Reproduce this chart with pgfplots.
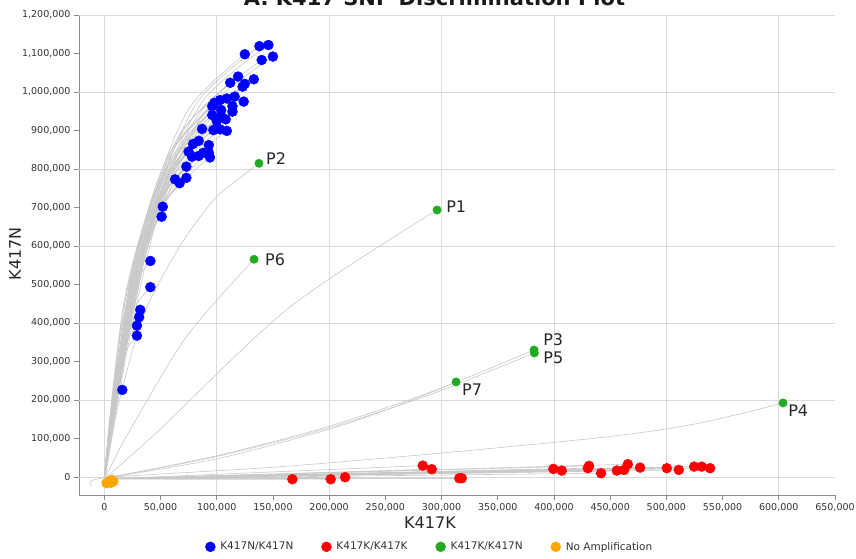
\documentclass[border=0pt]{standalone}
\usepackage{fontspec}
\setmainfont{DejaVu Sans}
\usepackage{pgfplots}
\pgfplotsset{compat=1.18}
\definecolor{gridc}{RGB}{218,218,218}
\definecolor{trajc}{RGB}{200,200,200}
\definecolor{ptgreen}{RGB}{34,170,34}
\definecolor{ptorange}{RGB}{255,165,0}
\definecolor{axisc}{RGB}{140,140,140}
\definecolor{tickc}{RGB}{51,51,51}
\pgfplotsset{traj/.style={forget plot, trajc, line width=0.6pt, smooth, mark=none}}
\newcommand{\traj}[1]{\addplot[traj] coordinates {#1};}
\newcommand{\rline}[2]{\addplot[forget plot, trajc, line width=0.6pt, mark=none] coordinates {(3000,-5000) (#1,#2)};}
\begin{document}
\begin{tikzpicture}
\begin{axis}[
  at={(0pt,0pt)}, anchor=south west,
  scale only axis, width=756pt, height=480pt,
  xmin=-22500, xmax=650000, ymin=-47000, ymax=1200000,
  axis x line*=bottom, axis y line*=left,
  axis line style={axisc, line width=0.8pt, -},
  every outer x axis line/.append style={-},
  every outer y axis line/.append style={-},
  xtick={0,50000,...,650000}, ytick={0,100000,...,1200000},
  tick align=outside, major tick length=5pt,
  tick style={axisc, line width=0.8pt},
  extra x ticks={0,100000,...,600000}, extra x tick labels={},
  extra y ticks={0,200000,...,1200000}, extra y tick labels={},
  extra tick style={grid=major, major tick length=0pt},
  major grid style={gridc, line width=0.8pt},
  scaled ticks=false,
  xticklabel style={/pgf/number format/.cd, fixed, 1000 sep={,}, assume math mode=true},
  yticklabel style={/pgf/number format/.cd, fixed, 1000 sep={,}, assume math mode=true},
  tick label style={font=\fontsize{9.5}{11}\selectfont, text=tickc},
  legend columns=4,
  legend style={at={(axis description cs:0.464,-0.108)}, anchor=center, draw=none, fill=none,
    font=\fontsize{10.5}{12}\selectfont, text=tickc,
    /tikz/every odd column/.append style={column sep=3pt},
    /tikz/every even column/.append style={column sep=26pt}},
  legend image code/.code={\draw[mark repeat=2, mark phase=2, #1] plot coordinates {(0pt,0pt) (6pt,0pt) (12pt,0pt)};},
]
\addlegendimage{only marks, mark=*, blue, mark size=5pt}
\addlegendentry{K417N/K417N}
\addlegendimage{only marks, mark=*, red, mark size=5pt}
\addlegendentry{K417K/K417K}
\addlegendimage{only marks, mark=*, ptgreen, mark size=5pt}
\addlegendentry{K417K/K417N}
\addlegendimage{only marks, mark=*, ptorange, mark size=5pt}
\addlegendentry{No Amplification}

% trajectories of K417N/K417N wells
\traj{(0,-2000) (22100,391700) (46900,727400) (82800,973500) (138000,1119000)}
\traj{(0,-2000) (23400,392700) (49600,729300) (87600,976100) (146000,1122000)}
\traj{(0,-2000) (20000,384300) (42500,713700) (75000,955300) (125000,1098000)}
\traj{(0,-2000) (22400,379100) (47600,704000) (84000,942200) (140000,1083000)}
\traj{(0,-2000) (24000,382200) (51000,709800) (90000,950000) (150000,1092000)}
\traj{(0,-2000) (19000,364000) (40500,676000) (71400,904800) (119000,1040000)}
\traj{(0,-2000) (21300,361600) (45200,671500) (79800,898700) (133000,1033000)}
\traj{(0,-2000) (17900,358400) (38100,665600) (67200,890900) (112000,1024000)}
\traj{(0,-2000) (20000,357400) (42500,663700) (75000,888300) (125000,1021000)}
\traj{(0,-2000) (19700,354900) (41800,659100) (73800,882200) (123000,1014000)}
\traj{(0,-2000) (18600,345800) (39400,642200) (69600,859600) (116000,988000)}
\traj{(0,-2000) (19800,341300) (42200,633800) (74400,848300) (124000,975000)}
\traj{(0,-2000) (17400,344100) (37100,639000) (65400,855200) (109000,983000)}
\traj{(0,-2000) (16500,342700) (35000,636400) (61800,851700) (103000,979000)}
\traj{(0,-2000) (15700,340200) (33300,631800) (58800,845600) (98000,972000)}
\traj{(0,-2000) (15400,337100) (32600,626000) (57600,837800) (96000,963000)}
\traj{(0,-2000) (18200,337100) (38800,626000) (68400,837800) (114000,963000)}
\traj{(0,-2000) (16600,333600) (35400,619500) (62400,829100) (104000,953000)}
\traj{(0,-2000) (18200,332200) (38800,616900) (68400,825600) (114000,949000)}
\traj{(0,-2000) (15400,329000) (32600,611000) (57600,817800) (96000,940000)}
\traj{(0,-2000) (16600,327600) (35400,608400) (62400,814300) (104000,936000)}
\traj{(0,-2000) (17300,325200) (36700,603900) (64800,808200) (108000,929000)}
\traj{(0,-2000) (16000,323800) (34000,601300) (60000,804800) (100000,925000)}
\traj{(0,-2000) (13900,316400) (29600,587600) (52200,786500) (87000,904000)}
\traj{(0,-2000) (15500,315400) (33000,585700) (58200,783900) (97000,901000)}
\traj{(0,-2000) (16500,316100) (35000,587000) (61800,785600) (103000,903000)}
\traj{(0,-2000) (17400,314700) (37100,584400) (65400,782100) (109000,899000)}
\traj{(0,-2000) (13400,305600) (28600,567500) (50400,759500) (84000,873000)}
\traj{(0,-2000) (12600,302800) (26900,562300) (47400,752600) (79000,865000)}
\traj{(0,-2000) (14900,301700) (31600,560300) (55800,749900) (93000,862000)}
\traj{(0,-2000) (12000,295800) (25500,549300) (45000,735200) (75000,845000)}
\traj{(0,-2000) (14100,294700) (29900,547300) (52800,732500) (88000,842000)}
\traj{(0,-2000) (14900,294700) (31600,547300) (55800,732500) (93000,842000)}
\traj{(0,-2000) (13400,291900) (28600,542100) (50400,725600) (84000,834000)}
\traj{(0,-2000) (12500,291200) (26500,540800) (46800,723800) (78000,832000)}
\traj{(0,-2000) (15000,290500) (32000,539500) (56400,722100) (94000,830000)}
\traj{(0,-2000) (11700,282100) (24800,523900) (43800,701200) (73000,806000)}
\traj{(0,-2000) (10100,270600) (21400,502500) (37800,672500) (63000,773000)}
\traj{(0,-2000) (10700,267100) (22800,496000) (40200,663800) (67000,763000)}
\traj{(0,-2000) (11700,272000) (24800,505100) (43800,676000) (73000,777000)}
\traj{(0,-2000) (8300,245700) (17700,456300) (31200,610700) (52000,702000)}
\traj{(0,-2000) (8200,236600) (17300,439400) (30600,588100) (51000,676000)}
\traj{(0,-2000) (6600,196400) (13900,364700) (24600,488100) (41000,561000)}
\traj{(0,-2000) (6600,172600) (13900,320500) (24600,428900) (41000,493000)}
\traj{(0,-2000) (5100,151900) (10900,282100) (19200,377600) (32000,434000)}
\traj{(0,-2000) (5000,145300) (10500,269800) (18600,361100) (31000,415000)}
\traj{(0,-2000) (4600,137600) (9900,255500) (17400,341900) (29000,393000)}
\traj{(0,-2000) (4600,128500) (9900,238600) (17400,319300) (29000,367000)}
\traj{(0,-2000) (2600,79100) (5400,146900) (9600,196600) (16000,226000)}

% trajectories of K417K/K417N wells
\traj{(1000,-3000) (12000,180000) (35000,420000) (67000,598000) (97000,719000) (118000,771000) (137600,814700)}
\traj{(1000,-3000) (8000,40000) (23000,122000) (73000,364000) (133200,565400)}
\traj{(1000,-3000) (49000,122000) (165000,441000) (296000,693400)}
\traj{(1000,-3000) (100000,55000) (198000,130000) (290000,220000) (382300,329800)}
\traj{(1000,-3000) (100000,53000) (198000,126000) (290000,214000) (382500,322000)}
\traj{(1000,-3000) (100000,47000) (198000,122000) (260000,184000) (312900,246700)}
\traj{(-11000,-23000) (2000,-2000) (150000,25000) (300000,62000) (450000,105000) (530000,140000) (603800,192200)}

% trajectories of K417K/K417K wells
\rline{167300}{-6000}
\rline{201400}{-6000}
\rline{214200}{-800}
\rline{283300}{29300}
\rline{291300}{20000}
\rline{315800}{-3400}
\rline{318000}{-3400}
\rline{399500}{20800}
\rline{406900}{16400}
\rline{430100}{22600}
\rline{431200}{28600}
\rline{441900}{9600}
\rline{455900}{16400}
\rline{462400}{18200}
\rline{465700}{33000}
\rline{476600}{24200}
\rline{500400}{22600}
\rline{511000}{18200}
\rline{524700}{26700}
\rline{531500}{26700}
\rline{538900}{22600}

% K417N/K417N
\addplot[forget plot, only marks, mark=*, blue, mark size=5pt] table {
x y
138000 1119000
146000 1122000
125000 1098000
140000 1083000
150000 1092000
119000 1040000
133000 1033000
112000 1024000
125000 1021000
123000 1014000
116000 988000
124000 975000
109000 983000
103000 979000
98000 972000
96000 963000
114000 963000
104000 953000
114000 949000
96000 940000
104000 936000
108000 929000
100000 925000
87000 904000
97000 901000
103000 903000
109000 899000
84000 873000
79000 865000
93000 862000
75000 845000
88000 842000
93000 842000
84000 834000
78000 832000
94000 830000
73000 806000
63000 773000
67000 763000
73000 777000
52000 702000
51000 676000
41000 561000
41000 493000
32000 434000
31000 415000
29000 393000
29000 367000
16000 226000
};
% K417K/K417K
\addplot[forget plot, only marks, mark=*, red, mark size=5pt] table {
x y
167300 -6000
201400 -6000
214200 -800
283300 29300
291300 20000
315800 -3400
318000 -3400
399500 20800
406900 16400
430100 22600
431200 28600
441900 9600
455900 16400
462400 18200
465700 33000
476600 24200
500400 22600
511000 18200
524700 26700
531500 26700
538900 22600
};
% K417K/K417N
\addplot[forget plot, only marks, mark=*, ptgreen, mark size=4.2pt] table {
x y
137600 814700
133200 565400
296000 693400
382300 329800
382500 322000
312900 246700
603800 192200
};
% No amplification
\addplot[forget plot, only marks, mark=*, ptorange, mark size=5pt] table {
x y
2000 -16000
4000 -13000
6600 -8000
8000 -12000
6000 -15000
};

\begin{scope}[every node/.style={anchor=west, inner sep=0pt, font=\fontsize{16}{18}\selectfont, text=black!85}]
\node[xshift=7pt, yshift=5pt] at (axis cs:137600,814700) {P2};
\node[xshift=9pt, yshift=3pt] at (axis cs:296000,693400) {P1};
\node[xshift=11pt, yshift=0pt] at (axis cs:133200,565400) {P6};
\node[xshift=9pt, yshift=10pt] at (axis cs:382300,329800) {P3};
\node[xshift=9pt, yshift=-5pt] at (axis cs:382500,322000) {P5};
\node[xshift=6pt, yshift=-8pt] at (axis cs:312900,246700) {P7};
\node[xshift=5pt, yshift=-8pt] at (axis cs:603800,192200) {P4};
\end{scope}
\end{axis}
\node[anchor=base, font=\bfseries\fontsize{21}{24}\selectfont, text=black!90] at (355.5pt,489pt) {A. K417 SNP Discrimination Plot};
\node[font=\fontsize{16}{18}\selectfont, text=black!85] at (351pt,-28pt) {K417K};
\node[rotate=90, font=\fontsize{16}{18}\selectfont, text=black!85] at (-64pt,241pt) {K417N};
\pgfresetboundingbox
\path[use as bounding box] (-79pt,-64pt) rectangle (777pt,495pt);
\end{tikzpicture}
\end{document}
